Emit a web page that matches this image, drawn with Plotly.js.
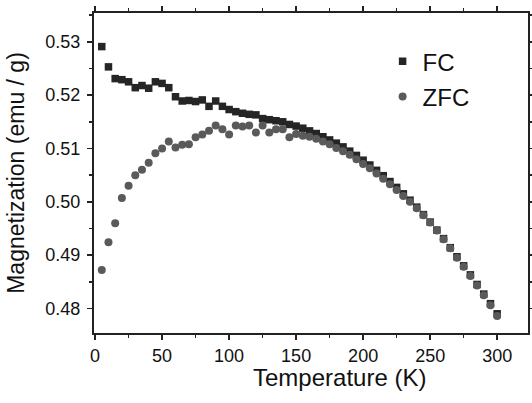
<!DOCTYPE html>
<html>
<head>
<meta charset="utf-8">
<script src="https://cdn.plot.ly/plotly-3.0.1.min.js"></script>
<style>html,body{margin:0;padding:0;background:#fff;}#chart{width:532px;height:403px;}</style>
</head>
<body>
<div id="chart"></div>
<script>
const temperature = [5,10,15,20,25,30,35,40,45,50,55,60,65,70,75,80,85,90,95,100,
  105,110,115,120,125,130,135,140,145,150,155,160,165,170,175,180,185,190,195,200,
  205,210,215,220,225,230,235,240,245,250,255,260,265,270,275,280,285,290,295,300];

const fcValues = [0.5291,0.5253,0.5231,0.5229,0.5225,0.5214,0.5218,0.5213,0.5225,0.5222,
  0.5214,0.5197,0.5189,0.5190,0.5188,0.5191,0.5179,0.5189,0.5179,0.5173,
  0.5169,0.5166,0.5164,0.5163,0.5156,0.5154,0.5152,0.5150,0.5145,0.5142,
  0.5138,0.5133,0.5128,0.5122,0.5116,0.5110,0.5103,0.5095,0.5087,0.5078,
  0.5069,0.5059,0.5049,0.5038,0.5027,0.5015,0.5003,0.4990,0.4976,0.4962,
  0.4947,0.4931,0.4914,0.4897,0.4880,0.4863,0.4845,0.4827,0.4809,0.4790];

const zfcValues = [0.4872,0.4924,0.4960,0.5007,0.5030,0.5050,0.5060,0.5073,0.5091,0.5100,
  0.5113,0.5102,0.5107,0.5108,0.5121,0.5126,0.5133,0.5143,0.5136,0.5126,
  0.5143,0.5141,0.5143,0.5130,0.5143,0.5130,0.5136,0.5136,0.5121,0.5127,
  0.5124,0.5122,0.5118,0.5113,0.5108,0.5101,0.5095,0.5088,0.5080,0.5071,
  0.5063,0.5053,0.5043,0.5033,0.5022,0.5011,0.5000,0.4988,0.4975,0.4961,
  0.4946,0.4930,0.4913,0.4895,0.4878,0.4861,0.4843,0.4825,0.4806,0.4786];

const seriesNames = ['FC', 'ZFC'];
const xTicks = [0,50,100,150,200,250,300];
const yTicks = [0.48,0.49,0.50,0.51,0.52,0.53];
const yTickLabels = ['0.48','0.49','0.50','0.51','0.52','0.53'];
const xTitle = 'Temperature (K)';
const yTitle = 'Magnetization (emu / g)';

const traces = [
  {x: temperature, y: fcValues, name: seriesNames[0], mode: 'markers', type: 'scatter',
   legendgroup: 'a',
   marker: {symbol: 'square', size: 7.5, color: '#252525'}},
  {x: temperature, y: zfcValues, name: seriesNames[1], mode: 'markers', type: 'scatter',
   legendgroup: 'b',
   marker: {symbol: 'circle', size: 8, color: '#5a5a5a'}}
];

const fam = 'Liberation Sans, Arial, sans-serif';
const axisFont = {family: fam, size: 18, color: '#111'};
const layout = {
  width: 532, height: 403,
  margin: {l: 94, r: 4, t: 13, b: 70},
  paper_bgcolor: '#fff', plot_bgcolor: '#fff',
  showlegend: true,
  legend: {x: 0.665, y: 0.918, xanchor: 'left', yanchor: 'top',
    font: {family: fam, size: 24, color: '#111'},
    bgcolor: 'rgba(0,0,0,0)', traceorder: 'grouped', tracegroupgap: 1},
  annotations: [
    {text: xTitle, xref: 'paper', yref: 'paper', x: 0.565, y: -0.1406,
     xanchor: 'center', yanchor: 'middle', showarrow: false,
     font: {family: fam, size: 24, color: '#111'}}
  ],
  xaxis: {
    range: [-0.8, 323], tickvals: xTicks, ticktext: xTicks.map(String),
    showgrid: false, zeroline: false, showline: true, linecolor: '#222', linewidth: 2,
    mirror: 'ticks', ticks: 'outside', ticklen: 5, tickwidth: 1.5, tickcolor: '#222',
    minor: {dtick: 25, tick0: 0, ticks: 'outside', ticklen: 3, tickwidth: 1.5, tickcolor: '#222'},
    tickfont: axisFont
  },
  yaxis: {
    range: [0.4754, 0.5354], tickvals: yTicks, ticktext: yTickLabels,
    showgrid: false, zeroline: false, showline: true, linecolor: '#222', linewidth: 2,
    mirror: 'ticks', ticks: 'outside', ticklen: 5, tickwidth: 1.5, tickcolor: '#222',
    minor: {dtick: 0.005, tick0: 0.48, ticks: 'outside', ticklen: 3, tickwidth: 1.5, tickcolor: '#222'},
    tickfont: axisFont, ticklabelstandoff: 3,
    title: {text: yTitle, font: {family: fam, size: 23, color: '#111'}, standoff: 14}
  }
};

Plotly.newPlot('chart', traces, layout, {staticPlot: true, displayModeBar: false});
</script>
</body>
</html>
